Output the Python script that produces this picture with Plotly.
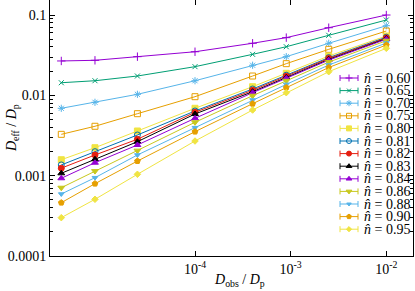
import plotly.graph_objects as go

# ---- data ----
d_obs = [4e-6, 9e-6, 2.5e-5, 1e-4, 4e-4, 9e-4, 2.5e-3, 1e-2]

n_hat_labels = ["0.60", "0.65", "0.70", "0.75", "0.80", "0.81", "0.82",
                "0.83", "0.84", "0.86", "0.88", "0.90", "0.95"]

d_eff_060 = [0.0268, 0.0273, 0.0303, 0.0349, 0.0445, 0.0523, 0.0695, 0.100]
d_eff_065 = [0.01436, 0.01521, 0.01741, 0.02275, 0.0324, 0.0403, 0.0559, 0.0867]
d_eff_070 = [0.00690, 0.00819, 0.0103, 0.0152, 0.0237, 0.0303, 0.0445, 0.0736]
d_eff_075 = [0.00327, 0.00412, 0.00591, 0.00962, 0.0174, 0.0248, 0.0374, 0.0632]
d_eff_080 = [0.00158, 0.00223, 0.00360, 0.00690, 0.01281, 0.01881, 0.03089, 0.05482]
d_eff_081 = [0.00136, 0.00199, 0.00321, 0.00639, 0.01200, 0.01781, 0.02950, 0.05296]
d_eff_082 = [0.00124, 0.00181, 0.00284, 0.00615, 0.01156, 0.01727, 0.02884, 0.05191]
d_eff_083 = [0.00107, 0.00160, 0.00265, 0.00586, 0.01110, 0.01668, 0.02803, 0.05085]
d_eff_084 = [0.000928, 0.00145, 0.00241, 0.00518, 0.01079, 0.01630, 0.02746, 0.05000]
d_eff_086 = [0.000708, 0.00114, 0.00205, 0.00462, 0.00990, 0.01518, 0.02593, 0.04789]
d_eff_088 = [0.000591, 0.000944, 0.00181, 0.00396, 0.00875, 0.01369, 0.02386, 0.04483]
d_eff_090 = [0.000461, 0.000795, 0.00152, 0.00353, 0.00787, 0.01252, 0.02221, 0.04233]
d_eff_095 = [0.000300, 0.000508, 0.00104, 0.00270, 0.00657, 0.01079, 0.01970, 0.03851]

series = [d_eff_060, d_eff_065, d_eff_070, d_eff_075, d_eff_080, d_eff_081, d_eff_082,
          d_eff_083, d_eff_084, d_eff_086, d_eff_088, d_eff_090, d_eff_095]

x_tick_vals = [1e-4, 1e-3, 1e-2]
x_tick_text = ["10<sup>-4</sup>", "10<sup>-3</sup>", "10<sup>-2</sup>"]
y_tick_vals = [1e-4, 1e-3, 1e-2, 1e-1]
y_tick_text = ["0.0001", "0.001", "0.01", "0.1"]

# ---- styles ----
colors = ["#9400d3", "#009e73", "#56b4e9", "#e69f00", "#f0e442", "#0072b2", "#e51e10",
          "#000000", "#9400d3", "#c8c81e", "#56b4e9", "#e69f00", "#f0e442"]
symbols = ["cross-thin-open", "x-thin-open", "asterisk-open", "square-open", "square",
           "circle-open", "circle", "triangle-up", "triangle-up", "triangle-down",
           "triangle-down", "pentagon", "diamond"]
sizes = [6, 5, 6, 6, 6, 6, 6, 6, 6, 6, 5, 6, 5]

FONT = "Liberation Serif"
W, H = 415, 291
ML, MR, MT, MB = 50, 2, 0, 35
PW, PH = W - ML - MR, H - MT - MB

fig = go.Figure()

for i, ys in enumerate(series):
    fig.add_trace(go.Scatter(
        x=d_obs, y=ys, mode="lines+markers", showlegend=False,
        line=dict(color=colors[i], width=1),
        marker=dict(symbol=symbols[i], size=sizes[i], color=colors[i],
                    line=dict(color=colors[i], width=1)),
        xaxis="x", yaxis="y",
    ))

# ---- compact key drawn on an overlay axis (pixel units of the plot area) ----
KEY_X = 299      # centre of sample
KEY_HALF = 9     # half length of sample
KEY_TEXT_X = 312
KEY_Y0 = 78
KEY_DY = 12.6

for i, lab in enumerate(n_hat_labels):
    yk = KEY_Y0 + KEY_DY * i
    fig.add_trace(go.Scatter(
        x=[KEY_X], y=[yk], mode="markers", showlegend=False,
        marker=dict(symbol=symbols[i], size=sizes[i] - 1, color=colors[i],
                    line=dict(color=colors[i], width=1)),
        error_x=dict(type="constant", value=KEY_HALF, width=3, thickness=1,
                     color=colors[i]),
        xaxis="x2", yaxis="y2", hoverinfo="skip",
    ))
    fig.add_annotation(
        x=KEY_TEXT_X, y=yk, xref="x2", yref="y2", xanchor="left", yanchor="middle",
        text="<i>n\u0302</i> = " + lab, showarrow=False,
        font=dict(family=FONT, size=14, color="black"),
    )

# axis titles as annotations (exact placement)
fig.add_annotation(
    x=(240 - ML) / PW, y=-(280 - PH) / PH, xref="paper", yref="paper",
    xanchor="center", yanchor="middle", showarrow=False,
    text="<i>D</i><sub>obs</sub> / <i>D</i><sub>p</sub>",
    font=dict(family=FONT, size=14, color="black"),
)
fig.add_annotation(
    x=(12 - ML) / PW, y=0.5, xref="paper", yref="paper",
    xanchor="center", yanchor="middle", showarrow=False, textangle=-90,
    text="<i>D</i><sub>eff</sub> / <i>D</i><sub>p</sub>",
    font=dict(family=FONT, size=14, color="black"),
)

minor_y = [m * 10.0 ** e for e in range(-4, 0) for m in range(2, 10)]

fig.update_layout(
    width=W, height=H,
    margin=dict(l=ML, r=MR, t=MT, b=MB, autoexpand=False),
    paper_bgcolor="white", plot_bgcolor="rgba(0,0,0,0)",
    font=dict(family=FONT, size=13, color="black"),
    xaxis=dict(
        type="log", range=[-5.516, -1.721], automargin=False,
        tickmode="array", tickvals=x_tick_vals, ticktext=x_tick_text,
        ticks="inside", ticklen=5, tickcolor="black", tickwidth=1,
        showline=True, linecolor="black", linewidth=1, mirror="ticks",
        showgrid=False, zeroline=False,
        tickfont=dict(family=FONT, size=14),
    ),
    yaxis=dict(
        type="log", range=[-4, -0.813], automargin=False,
        tickmode="array", tickvals=y_tick_vals, ticktext=y_tick_text,
        ticks="inside", ticklen=5, tickcolor="black", tickwidth=1,
        minor=dict(tickmode="array", tickvals=minor_y, ticks="inside", ticklen=3,
                   tickcolor="black", showgrid=False),
        showline=True, linecolor="black", linewidth=1, mirror="ticks",
        showgrid=False, zeroline=False,
        tickfont=dict(family=FONT, size=14),
    ),
    xaxis2=dict(domain=[0, 1], anchor="y2", range=[0, PW], visible=False,
                fixedrange=True, automargin=False),
    yaxis2=dict(domain=[0, 1], anchor="x2", range=[PH, 0], visible=False,
                fixedrange=True, automargin=False),
)

fig.write_html(
    "out.html",
    config={"displayModeBar": False},
    post_script="document.body.style.margin='0';document.body.style.overflow='hidden';",
)
